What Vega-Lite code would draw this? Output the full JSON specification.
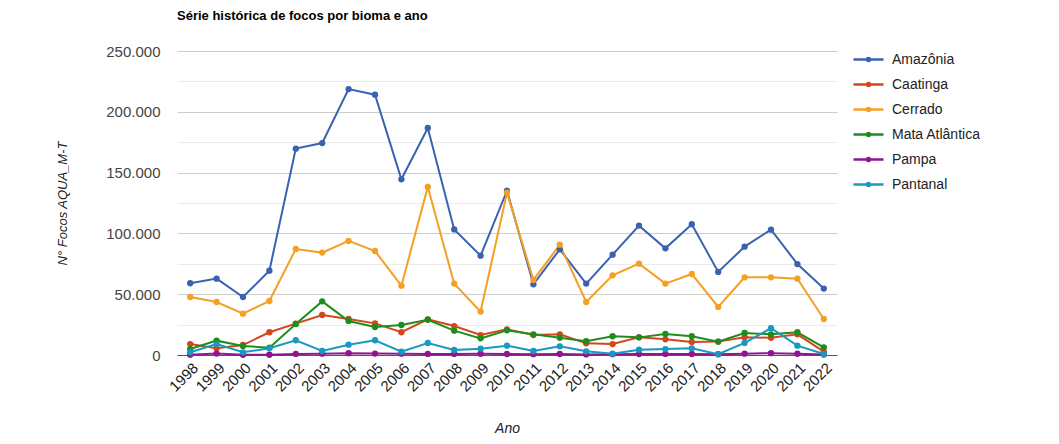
{
  "$schema": "https://vega.github.io/schema/vega-lite/v6.json",
  "width": 660,
  "height": 304,
  "autosize": {"type": "none"},
  "padding": {"left": 177, "top": 51, "right": 222, "bottom": 89},
  "background": "white",
  "title": {
    "text": "Série histórica de focos por bioma e ano",
    "anchor": "start",
    "frame": "group",
    "font": "Liberation Sans",
    "fontSize": 13,
    "fontWeight": "bold",
    "color": "#000000",
    "offset": 20
  },
  "config": {
    "view": {"stroke": null},
    "font": "Liberation Sans"
  },
  "data": {
    "values": [
      {"ano": "1998", "bioma": "Amazônia", "focos": 59000},
      {"ano": "1999", "bioma": "Amazônia", "focos": 62800},
      {"ano": "2000", "bioma": "Amazônia", "focos": 47700},
      {"ano": "2001", "bioma": "Amazônia", "focos": 69300},
      {"ano": "2002", "bioma": "Amazônia", "focos": 169700},
      {"ano": "2003", "bioma": "Amazônia", "focos": 174300},
      {"ano": "2004", "bioma": "Amazônia", "focos": 218700},
      {"ano": "2005", "bioma": "Amazônia", "focos": 214100},
      {"ano": "2006", "bioma": "Amazônia", "focos": 144500},
      {"ano": "2007", "bioma": "Amazônia", "focos": 186700},
      {"ano": "2008", "bioma": "Amazônia", "focos": 103300},
      {"ano": "2009", "bioma": "Amazônia", "focos": 81700},
      {"ano": "2010", "bioma": "Amazônia", "focos": 135100},
      {"ano": "2011", "bioma": "Amazônia", "focos": 58100},
      {"ano": "2012", "bioma": "Amazônia", "focos": 86900},
      {"ano": "2013", "bioma": "Amazônia", "focos": 58700},
      {"ano": "2014", "bioma": "Amazônia", "focos": 82500},
      {"ano": "2015", "bioma": "Amazônia", "focos": 106400},
      {"ano": "2016", "bioma": "Amazônia", "focos": 87700},
      {"ano": "2017", "bioma": "Amazônia", "focos": 107500},
      {"ano": "2018", "bioma": "Amazônia", "focos": 68300},
      {"ano": "2019", "bioma": "Amazônia", "focos": 89100},
      {"ano": "2020", "bioma": "Amazônia", "focos": 103100},
      {"ano": "2021", "bioma": "Amazônia", "focos": 74800},
      {"ano": "2022", "bioma": "Amazônia", "focos": 54600},
      {"ano": "1998", "bioma": "Caatinga", "focos": 9000},
      {"ano": "1999", "bioma": "Caatinga", "focos": 5500},
      {"ano": "2000", "bioma": "Caatinga", "focos": 8200},
      {"ano": "2001", "bioma": "Caatinga", "focos": 18700},
      {"ano": "2002", "bioma": "Caatinga", "focos": 25800},
      {"ano": "2003", "bioma": "Caatinga", "focos": 32900},
      {"ano": "2004", "bioma": "Caatinga", "focos": 29600},
      {"ano": "2005", "bioma": "Caatinga", "focos": 26000},
      {"ano": "2006", "bioma": "Caatinga", "focos": 18700},
      {"ano": "2007", "bioma": "Caatinga", "focos": 29300},
      {"ano": "2008", "bioma": "Caatinga", "focos": 23800},
      {"ano": "2009", "bioma": "Caatinga", "focos": 16400},
      {"ano": "2010", "bioma": "Caatinga", "focos": 21100},
      {"ano": "2011", "bioma": "Caatinga", "focos": 16400},
      {"ano": "2012", "bioma": "Caatinga", "focos": 17000},
      {"ano": "2013", "bioma": "Caatinga", "focos": 9600},
      {"ano": "2014", "bioma": "Caatinga", "focos": 9000},
      {"ano": "2015", "bioma": "Caatinga", "focos": 14500},
      {"ano": "2016", "bioma": "Caatinga", "focos": 12900},
      {"ano": "2017", "bioma": "Caatinga", "focos": 10700},
      {"ano": "2018", "bioma": "Caatinga", "focos": 11000},
      {"ano": "2019", "bioma": "Caatinga", "focos": 14500},
      {"ano": "2020", "bioma": "Caatinga", "focos": 14200},
      {"ano": "2021", "bioma": "Caatinga", "focos": 17000},
      {"ano": "2022", "bioma": "Caatinga", "focos": 2800},
      {"ano": "1998", "bioma": "Cerrado", "focos": 47700},
      {"ano": "1999", "bioma": "Cerrado", "focos": 43600},
      {"ano": "2000", "bioma": "Cerrado", "focos": 34000},
      {"ano": "2001", "bioma": "Cerrado", "focos": 44400},
      {"ano": "2002", "bioma": "Cerrado", "focos": 87200},
      {"ano": "2003", "bioma": "Cerrado", "focos": 84200},
      {"ano": "2004", "bioma": "Cerrado", "focos": 93800},
      {"ano": "2005", "bioma": "Cerrado", "focos": 85500},
      {"ano": "2006", "bioma": "Cerrado", "focos": 57000},
      {"ano": "2007", "bioma": "Cerrado", "focos": 138200},
      {"ano": "2008", "bioma": "Cerrado", "focos": 58700},
      {"ano": "2009", "bioma": "Cerrado", "focos": 35700},
      {"ano": "2010", "bioma": "Cerrado", "focos": 133500},
      {"ano": "2011", "bioma": "Cerrado", "focos": 61700},
      {"ano": "2012", "bioma": "Cerrado", "focos": 90700},
      {"ano": "2013", "bioma": "Cerrado", "focos": 43600},
      {"ano": "2014", "bioma": "Cerrado", "focos": 65500},
      {"ano": "2015", "bioma": "Cerrado", "focos": 75100},
      {"ano": "2016", "bioma": "Cerrado", "focos": 58700},
      {"ano": "2017", "bioma": "Cerrado", "focos": 66600},
      {"ano": "2018", "bioma": "Cerrado", "focos": 39500},
      {"ano": "2019", "bioma": "Cerrado", "focos": 63900},
      {"ano": "2020", "bioma": "Cerrado", "focos": 63900},
      {"ano": "2021", "bioma": "Cerrado", "focos": 62800},
      {"ano": "2022", "bioma": "Cerrado", "focos": 29600},
      {"ano": "1998", "bioma": "Mata Atlântica", "focos": 4900},
      {"ano": "1999", "bioma": "Mata Atlântica", "focos": 11800},
      {"ano": "2000", "bioma": "Mata Atlântica", "focos": 7400},
      {"ano": "2001", "bioma": "Mata Atlântica", "focos": 6000},
      {"ano": "2002", "bioma": "Mata Atlântica", "focos": 25500},
      {"ano": "2003", "bioma": "Mata Atlântica", "focos": 44100},
      {"ano": "2004", "bioma": "Mata Atlântica", "focos": 28000},
      {"ano": "2005", "bioma": "Mata Atlântica", "focos": 23000},
      {"ano": "2006", "bioma": "Mata Atlântica", "focos": 24700},
      {"ano": "2007", "bioma": "Mata Atlântica", "focos": 29000},
      {"ano": "2008", "bioma": "Mata Atlântica", "focos": 20000},
      {"ano": "2009", "bioma": "Mata Atlântica", "focos": 13700},
      {"ano": "2010", "bioma": "Mata Atlântica", "focos": 20300},
      {"ano": "2011", "bioma": "Mata Atlântica", "focos": 17000},
      {"ano": "2012", "bioma": "Mata Atlântica", "focos": 14200},
      {"ano": "2013", "bioma": "Mata Atlântica", "focos": 11300},
      {"ano": "2014", "bioma": "Mata Atlântica", "focos": 15400},
      {"ano": "2015", "bioma": "Mata Atlântica", "focos": 14500},
      {"ano": "2016", "bioma": "Mata Atlântica", "focos": 17300},
      {"ano": "2017", "bioma": "Mata Atlântica", "focos": 15400},
      {"ano": "2018", "bioma": "Mata Atlântica", "focos": 11000},
      {"ano": "2019", "bioma": "Mata Atlântica", "focos": 18100},
      {"ano": "2020", "bioma": "Mata Atlântica", "focos": 17000},
      {"ano": "2021", "bioma": "Mata Atlântica", "focos": 18700},
      {"ano": "2022", "bioma": "Mata Atlântica", "focos": 6300},
      {"ano": "1998", "bioma": "Pampa", "focos": 300},
      {"ano": "1999", "bioma": "Pampa", "focos": 1200},
      {"ano": "2000", "bioma": "Pampa", "focos": 200},
      {"ano": "2001", "bioma": "Pampa", "focos": 200},
      {"ano": "2002", "bioma": "Pampa", "focos": 900},
      {"ano": "2003", "bioma": "Pampa", "focos": 1100},
      {"ano": "2004", "bioma": "Pampa", "focos": 1500},
      {"ano": "2005", "bioma": "Pampa", "focos": 1200},
      {"ano": "2006", "bioma": "Pampa", "focos": 1100},
      {"ano": "2007", "bioma": "Pampa", "focos": 900},
      {"ano": "2008", "bioma": "Pampa", "focos": 900},
      {"ano": "2009", "bioma": "Pampa", "focos": 1000},
      {"ano": "2010", "bioma": "Pampa", "focos": 800},
      {"ano": "2011", "bioma": "Pampa", "focos": 700},
      {"ano": "2012", "bioma": "Pampa", "focos": 800},
      {"ano": "2013", "bioma": "Pampa", "focos": 500},
      {"ano": "2014", "bioma": "Pampa", "focos": 700},
      {"ano": "2015", "bioma": "Pampa", "focos": 800},
      {"ano": "2016", "bioma": "Pampa", "focos": 900},
      {"ano": "2017", "bioma": "Pampa", "focos": 800},
      {"ano": "2018", "bioma": "Pampa", "focos": 700},
      {"ano": "2019", "bioma": "Pampa", "focos": 1100},
      {"ano": "2020", "bioma": "Pampa", "focos": 1500},
      {"ano": "2021", "bioma": "Pampa", "focos": 1000},
      {"ano": "2022", "bioma": "Pampa", "focos": 400},
      {"ano": "1998", "bioma": "Pantanal", "focos": 2200},
      {"ano": "1999", "bioma": "Pantanal", "focos": 9000},
      {"ano": "2000", "bioma": "Pantanal", "focos": 2200},
      {"ano": "2001", "bioma": "Pantanal", "focos": 5500},
      {"ano": "2002", "bioma": "Pantanal", "focos": 12100},
      {"ano": "2003", "bioma": "Pantanal", "focos": 3300},
      {"ano": "2004", "bioma": "Pantanal", "focos": 8500},
      {"ano": "2005", "bioma": "Pantanal", "focos": 12100},
      {"ano": "2006", "bioma": "Pantanal", "focos": 2700},
      {"ano": "2007", "bioma": "Pantanal", "focos": 9900},
      {"ano": "2008", "bioma": "Pantanal", "focos": 4100},
      {"ano": "2009", "bioma": "Pantanal", "focos": 5200},
      {"ano": "2010", "bioma": "Pantanal", "focos": 7700},
      {"ano": "2011", "bioma": "Pantanal", "focos": 3300},
      {"ano": "2012", "bioma": "Pantanal", "focos": 7100},
      {"ano": "2013", "bioma": "Pantanal", "focos": 3000},
      {"ano": "2014", "bioma": "Pantanal", "focos": 1100},
      {"ano": "2015", "bioma": "Pantanal", "focos": 4400},
      {"ano": "2016", "bioma": "Pantanal", "focos": 4900},
      {"ano": "2017", "bioma": "Pantanal", "focos": 5500},
      {"ano": "2018", "bioma": "Pantanal", "focos": 600},
      {"ano": "2019", "bioma": "Pantanal", "focos": 9900},
      {"ano": "2020", "bioma": "Pantanal", "focos": 22000},
      {"ano": "2021", "bioma": "Pantanal", "focos": 7700},
      {"ano": "2022", "bioma": "Pantanal", "focos": 800}
    ]
  },
  "encoding": {
    "x": {
      "field": "ano",
      "type": "ordinal",
      "scale": {"type": "point", "padding": 0.5},
      "axis": {
        "title": "Ano",
        "titleFontStyle": "italic",
        "titleFontWeight": "normal",
        "titleFontSize": 14,
        "titleColor": "#222222",
        "titlePadding": 27,
        "labelAngle": -45,
        "labelFontSize": 15,
        "labelColor": "#222222",
        "labelPadding": 5,
        "ticks": false,
        "grid": false,
        "domain": true,
        "domainColor": "#555555",
        "domainWidth": 1
      }
    },
    "y": {
      "field": "focos",
      "type": "quantitative",
      "scale": {"domain": [0, 250000], "nice": false},
      "axis": {
        "title": "N° Focos AQUA_M-T",
        "titleFontStyle": "italic",
        "titleFontWeight": "normal",
        "titleFontSize": 13,
        "titleColor": "#222222",
        "titlePadding": 36,
        "values": [0, 25000, 50000, 75000, 100000, 125000, 150000, 175000, 200000, 225000, 250000],
        "labelExpr": "datum.value % 50000 === 0 ? replace(format(datum.value, ','), ',', '.') : ''",
        "labelFontSize": 15,
        "labelColor": "#444444",
        "labelPadding": 17,
        "ticks": false,
        "domain": false,
        "gridColor": {"condition": {"test": "datum.value % 50000 === 0", "value": "#cccccc"}, "value": "#ebebeb"},
        "gridWidth": 1
      }
    },
    "color": {
      "field": "bioma",
      "type": "nominal",
      "scale": {
        "domain": ["Amazônia", "Caatinga", "Cerrado", "Mata Atlântica", "Pampa", "Pantanal"],
        "range": ["#3b62b2", "#d4461c", "#f4a024", "#1d8e1d", "#8e168e", "#1799c2"]
      },
      "legend": {
        "title": null,
        "orient": "none",
        "legendX": 675,
        "legendY": -8,
        "padding": 0,
        "labelFontSize": 14,
        "labelColor": "#222222",
        "labelOffset": 7,
        "rowPadding": 1,
        "symbolType": "M-1,0L1,0M0.1,0A0.1,0.1,0,1,1,-0.1,0A0.1,0.1,0,1,1,0.1,0Z",
        "symbolSize": 900,
        "symbolStrokeWidth": 2.5
      }
    }
  },
  "layer": [
    {"mark": {"type": "line", "strokeWidth": 2}},
    {"mark": {"type": "point", "filled": true, "size": 40, "opacity": 1}}
  ]
}
